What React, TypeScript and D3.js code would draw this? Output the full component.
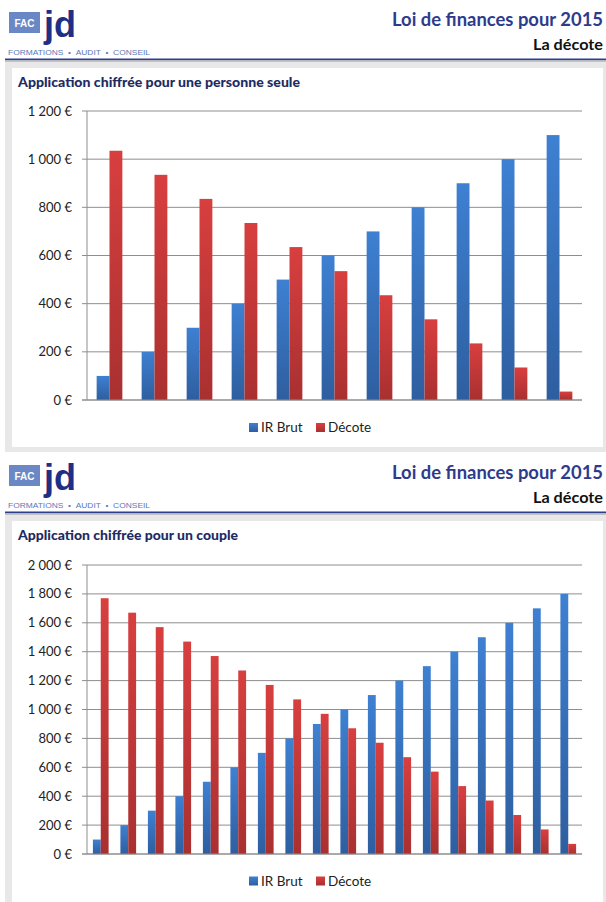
import React from "react";
import * as d3 from "d3";

// ---- data ----
const categoriesSingle = ["1", "2", "3", "4", "5", "6", "7", "8", "9", "10", "11"];
const irBrutSingle = [100, 200, 300, 400, 500, 600, 700, 800, 900, 1000, 1100];
const decoteSingle = [1035, 935, 835, 735, 635, 535, 435, 335, 235, 135, 35];
const yTicksSingle = [0, 200, 400, 600, 800, 1000, 1200];

const categoriesCouple = ["1", "2", "3", "4", "5", "6", "7", "8", "9", "10", "11", "12", "13", "14", "15", "16", "17", "18"];
const irBrutCouple = [100, 200, 300, 400, 500, 600, 700, 800, 900, 1000, 1100, 1200, 1300, 1400, 1500, 1600, 1700, 1800];
const decoteCouple = [1770, 1670, 1570, 1470, 1370, 1270, 1170, 1070, 970, 870, 770, 670, 570, 470, 370, 270, 170, 70];
const yTicksCouple = [0, 200, 400, 600, 800, 1000, 1200, 1400, 1600, 1800, 2000];

const seriesNames = ["IR Brut", "Décote"];
const headerTitle = "Loi de finances pour 2015";
const headerSubtitle = "La décote";
const chartTitleSingle = "Application chiffrée pour une personne seule";
const chartTitleCouple = "Application chiffrée pour un couple";
const tagline = "FORMATIONS\u00a0\u00a0•\u00a0\u00a0AUDIT\u00a0\u00a0•\u00a0\u00a0CONSEIL";

const locale = d3.formatLocale({ decimal: ",", thousands: "\u00a0", grouping: [3], currency: ["", "\u00a0€"] });
const fmt = (v: number) => locale.format(",")(v) + "\u00a0€";

const FONT = "Lato, 'Open Sans', sans-serif";

function Header({ y0 }: { y0: number }) {
  return (
    <g transform={`translate(0,${y0})`}>
      <rect x={9} y={12} width={31} height={21} fill="#6a88c6" />
      <text x={24.5} y={26.5} textAnchor="middle" fill="#fff" fontFamily="'Liberation Sans', Arial, sans-serif" fontWeight="bold" fontSize={10}>FAC</text>
      <text x={44} y={37} fill="#1f2f86" fontFamily="'Liberation Sans', Arial, sans-serif" fontWeight="bold" fontSize={36}>jd</text>
      <text x={8} y={55} fill="#5b78b8" fontFamily="'Liberation Sans', Arial, sans-serif" fontSize={8} textLength={142} lengthAdjust="spacingAndGlyphs">{tagline}</text>
      <text x={603} y={26} textAnchor="end" fill="#2e3b8c" fontFamily={FONT} fontWeight="bold" fontSize={18} textLength={211} lengthAdjust="spacingAndGlyphs">{headerTitle}</text>
      <text x={603} y={50} textAnchor="end" fill="#111" fontFamily={FONT} fontWeight="bold" fontSize={15} textLength={70} lengthAdjust="spacingAndGlyphs">{headerSubtitle}</text>
      <rect x={5} y={60} width={601} height={2} fill="#c4c4c4" />
      <rect x={5} y={58.5} width={601} height={1.6} fill="#2d3f8f" />
    </g>
  );
}

type PanelProps = {
  y0: number;
  panelBottom: number;
  title: string;
  titleWidth: number;
  categories: string[];
  ir: number[];
  dec: number[];
  ticks: number[];
  plotTop: number;
  plotBottom: number;
  legendY: number;
};

function Panel(p: PanelProps) {
  const left = 87;
  const right = 582;
  const yMax = p.ticks[p.ticks.length - 1];
  const y = d3.scaleLinear().domain([0, yMax]).range([p.plotBottom, p.plotTop]);
  const x = d3
    .scaleBand<string>()
    .domain(p.categories)
    .range([left, right])
    .paddingInner(3 / 7)
    .paddingOuter(1.5 / 7);
  const xs = d3.scaleBand<string>().domain(seriesNames).range([0, x.bandwidth()]);
  const panelTop = p.y0 + 62;
  return (
    <g>
      <Header y0={p.y0} />
      <rect x={5} y={panelTop} width={601} height={p.panelBottom - panelTop} fill="#e8e8e8" />
      <rect x={12} y={p.y0 + 68} width={591} height={p.panelBottom - 5 - (p.y0 + 68)} fill="#fff" />
      <text x={18} y={p.y0 + 86.5} fill="#1e2b62" fontFamily={FONT} fontWeight="900" fontSize={13} textLength={p.titleWidth} lengthAdjust="spacingAndGlyphs">{p.title}</text>
      {p.ticks.map((t) => (
        <g key={t}>
          <line x1={82} x2={right} y1={y(t)} y2={y(t)} stroke="#8e8e8e" strokeWidth={1} />
          <text x={72} y={y(t)} dy="0.35em" textAnchor="end" fill="#222" fontFamily={FONT} fontSize={13}>{fmt(t)}</text>
        </g>
      ))}
      <line x1={left} x2={left} y1={p.plotTop} y2={p.plotBottom} stroke="#8e8e8e" strokeWidth={1} />
      {p.categories.map((c, i) => (
        <g key={c}>
          <rect x={x(c)! + xs(seriesNames[0])!} y={y(p.ir[i])} width={xs.bandwidth()} height={y(0) - y(p.ir[i])} fill="url(#blueGrad)" />
          <rect x={x(c)! + xs(seriesNames[1])!} y={y(p.dec[i])} width={xs.bandwidth()} height={y(0) - y(p.dec[i])} fill="url(#redGrad)" />
        </g>
      ))}
      <line x1={82} x2={right} y1={y(0)} y2={y(0)} stroke="#8e8e8e" strokeWidth={1.2} />
      <rect x={249} y={p.legendY - 4.5} width={9} height={9} fill="url(#blueGrad)" />
      <text x={261} y={p.legendY} dy="0.36em" fill="#222" fontFamily={FONT} fontSize={13.5}>{seriesNames[0]}</text>
      <rect x={316} y={p.legendY - 4.5} width={9} height={9} fill="url(#redGrad)" />
      <text x={328} y={p.legendY} dy="0.36em" fill="#222" fontFamily={FONT} fontSize={13.5}>{seriesNames[1]}</text>
    </g>
  );
}

export default function App() {
  return (
    <svg width={606} height={902} style={{ position: "absolute", left: 0, top: 0, display: "block", background: "#fff" }}>
      <defs>
        <linearGradient id="blueGrad" x1="0" y1="0" x2="0" y2="1">
          <stop offset="0" stopColor="#3e80d2" />
          <stop offset="1" stopColor="#2e5e9f" />
        </linearGradient>
        <linearGradient id="redGrad" x1="0" y1="0" x2="0" y2="1">
          <stop offset="0" stopColor="#d83f3f" />
          <stop offset="1" stopColor="#a93030" />
        </linearGradient>
      </defs>
      <rect x={0} y={0} width={606} height={902} fill="#fff" />
      <Panel
        y0={0}
        panelBottom={452}
        title={chartTitleSingle}
        titleWidth={282}
        categories={categoriesSingle}
        ir={irBrutSingle}
        dec={decoteSingle}
        ticks={yTicksSingle}
        plotTop={111}
        plotBottom={400}
        legendY={427.5}
      />
      <Panel
        y0={453}
        panelBottom={907}
        title={chartTitleCouple}
        titleWidth={220}
        categories={categoriesCouple}
        ir={irBrutCouple}
        dec={decoteCouple}
        ticks={yTicksCouple}
        plotTop={565}
        plotBottom={854}
        legendY={881}
      />
    </svg>
  );
}
